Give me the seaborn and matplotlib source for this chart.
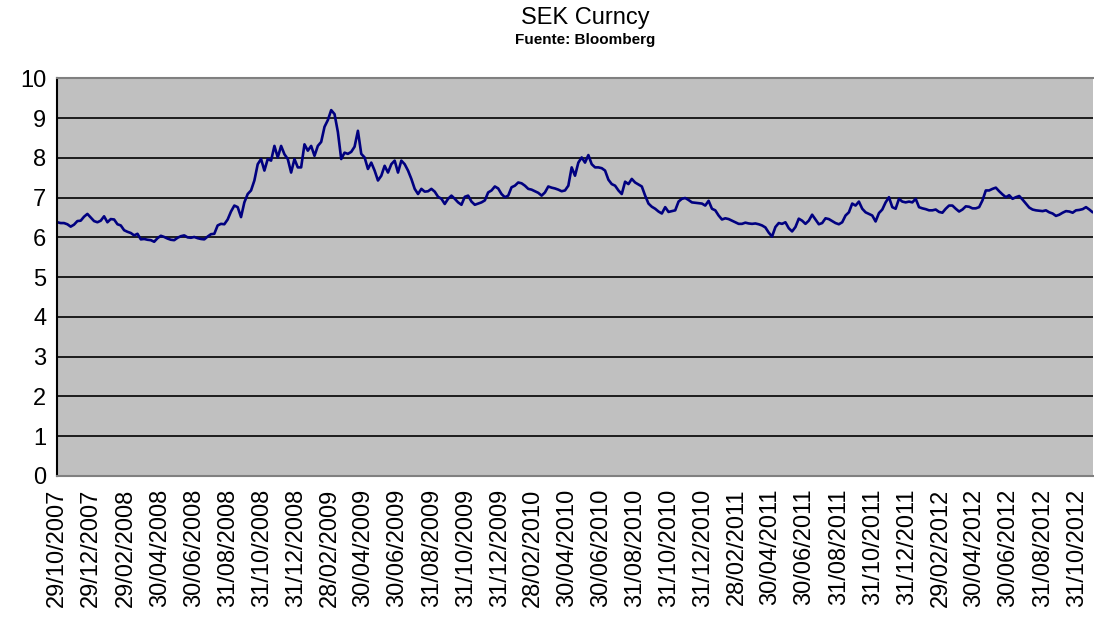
import pandas as pd
import matplotlib
matplotlib.use("Agg")
import matplotlib.pyplot as plt
import seaborn as sns

# SEK spot, every 6 days (29/10/2007 -> late 11/2012)
start_date = "2007-10-29"
end_date = "2012-11-28"

sek_2007_2010 = [
    6.38, 6.36, 6.36, 6.33, 6.27, 6.32, 6.41, 6.42, 6.52, 6.59,
    6.50, 6.41, 6.38, 6.42, 6.53, 6.38, 6.46, 6.45, 6.33, 6.30,
    6.18, 6.14, 6.11, 6.05, 6.09, 5.95, 5.96, 5.94, 5.93, 5.89,
    5.98, 6.04, 6.01, 5.97, 5.94, 5.93, 5.99, 6.03, 6.05, 6.00,
    5.99, 6.01, 5.98, 5.96, 5.95, 6.02, 6.08, 6.09, 6.30, 6.34,
    6.33, 6.45, 6.65, 6.80, 6.76, 6.51, 6.88, 7.09, 7.18, 7.43,
    7.84, 7.97, 7.68, 7.97, 7.93, 8.30, 8.01, 8.30, 8.09, 7.97,
    7.63, 7.97, 7.76, 7.76, 8.34, 8.18, 8.30, 8.05, 8.30, 8.40,
    8.78, 8.95, 9.20, 9.10, 8.65, 7.97, 8.13, 8.10, 8.15, 8.28,
    8.68, 8.10, 8.01, 7.72, 7.88, 7.68, 7.43, 7.55, 7.80, 7.63,
    7.84, 7.93, 7.63, 7.93, 7.84, 7.68, 7.47, 7.22, 7.09, 7.22,
    7.15, 7.16, 7.22, 7.15, 7.02, 6.97, 6.84, 6.97, 7.05, 6.97,
    6.88, 6.82, 7.02, 7.05, 6.90, 6.82, 6.85, 6.88, 6.93, 7.13,
    7.18, 7.28, 7.23, 7.09, 7.01, 7.05, 7.26, 7.30, 7.38, 7.36,
    7.30, 7.22, 7.20, 7.16, 7.12, 7.05, 7.13, 7.28, 7.25, 7.23,
    7.20, 7.16, 7.18, 7.30, 7.76,
]

sek_2010_2012 = [
    7.55, 7.88, 8.01, 7.88, 8.07, 7.84, 7.76, 7.76, 7.74, 7.68,
    7.45, 7.34, 7.30, 7.18, 7.09, 7.40, 7.34, 7.47, 7.38, 7.33,
    7.28, 7.05, 6.85, 6.77, 6.72, 6.65, 6.60, 6.76, 6.64, 6.66,
    6.68, 6.90, 6.97, 6.99, 6.94, 6.88, 6.87, 6.86, 6.85, 6.80,
    6.92, 6.72, 6.68, 6.55, 6.45, 6.48, 6.46, 6.42, 6.38, 6.34,
    6.34, 6.37, 6.35, 6.34, 6.35, 6.33, 6.30, 6.25, 6.12, 6.02,
    6.26, 6.36, 6.34, 6.38, 6.23, 6.15, 6.26, 6.47, 6.42, 6.34,
    6.42, 6.57, 6.45, 6.33, 6.36, 6.48, 6.46, 6.41, 6.36, 6.33,
    6.38, 6.55, 6.63, 6.85, 6.80, 6.90, 6.72, 6.63, 6.59, 6.55,
    6.40, 6.61, 6.70, 6.88, 7.01, 6.76, 6.72, 6.97, 6.90, 6.88,
    6.90, 6.88, 6.97, 6.76, 6.73, 6.71, 6.68, 6.68, 6.70, 6.64,
    6.62, 6.72, 6.80, 6.80, 6.72, 6.65, 6.70, 6.78, 6.77, 6.73,
    6.73, 6.76, 6.93, 7.18, 7.18, 7.22, 7.25, 7.16, 7.08, 7.01,
    7.06, 6.97, 7.01, 7.04, 6.95, 6.85, 6.75, 6.70, 6.68, 6.67,
    6.66, 6.68, 6.63, 6.60, 6.54, 6.57, 6.62, 6.66, 6.65, 6.62,
    6.68, 6.69, 6.71, 6.76, 6.70, 6.63,
]

tick_labels = [
    "29/10/2007", "29/12/2007", "29/02/2008", "30/04/2008", "30/06/2008",
    "31/08/2008", "31/10/2008", "31/12/2008", "28/02/2009", "30/04/2009",
    "30/06/2009", "31/08/2009", "31/10/2009", "31/12/2009", "28/02/2010",
    "30/04/2010", "30/06/2010", "31/08/2010", "31/10/2010", "31/12/2010",
    "28/02/2011", "30/04/2011", "30/06/2011", "31/08/2011", "31/10/2011",
    "31/12/2011", "29/02/2012", "30/04/2012", "30/06/2012", "31/08/2012",
    "31/10/2012",
]

values = sek_2007_2010 + sek_2010_2012
df = pd.DataFrame({
    "fecha": pd.date_range(start_date, end_date, periods=len(values)),
    "sek": values,
})
tick_dates = pd.to_datetime(tick_labels, format="%d/%m/%Y")

sns.set_style("white", {"axes.facecolor": "#c0c0c0", "text.color": "black"})
plt.rcParams["font.family"] = ["Liberation Sans", "DejaVu Sans"]

fig = plt.figure(figsize=(10.94, 6.18), dpi=100)
ax = fig.add_axes([0.0524, 0.2298, 0.9464, 0.6435])

sns.lineplot(data=df, x="fecha", y="sek", color="#000080", linewidth=1.9, ax=ax)

ax.set_ylim(0, 10)
ax.set_yticks(range(0, 11))
ax.set_xlim(df["fecha"].iloc[0], df["fecha"].iloc[-1])
ax.set_xticks(tick_dates)
ax.set_xticklabels(tick_labels, rotation=90)
ax.set_xlabel("")
ax.set_ylabel("")

ax.grid(axis="y", color="black", linewidth=1.2)
ax.grid(axis="x", visible=False)
ax.set_axisbelow(True)

ax.tick_params(axis="both", direction="out", length=5, width=1.2, color="black",
               labelsize=17, labelcolor="black", pad=3)
ax.tick_params(axis="x", pad=4)

ax.spines["left"].set_color("black")
ax.spines["left"].set_linewidth(1.5)
for side in ["top", "bottom"]:
    ax.spines[side].set_color("#808080")
    ax.spines[side].set_linewidth(1.5)
ax.spines["right"].set_visible(False)

fig.text(0.535, 0.971, "SEK Curncy", ha="center", va="center", fontsize=17,
         color="black")
fig.text(0.535, 0.935, "Fuente: Bloomberg", ha="center", va="center",
         fontsize=11, fontweight="bold", color="black")

fig.savefig("out.png", dpi=100, facecolor="white")
